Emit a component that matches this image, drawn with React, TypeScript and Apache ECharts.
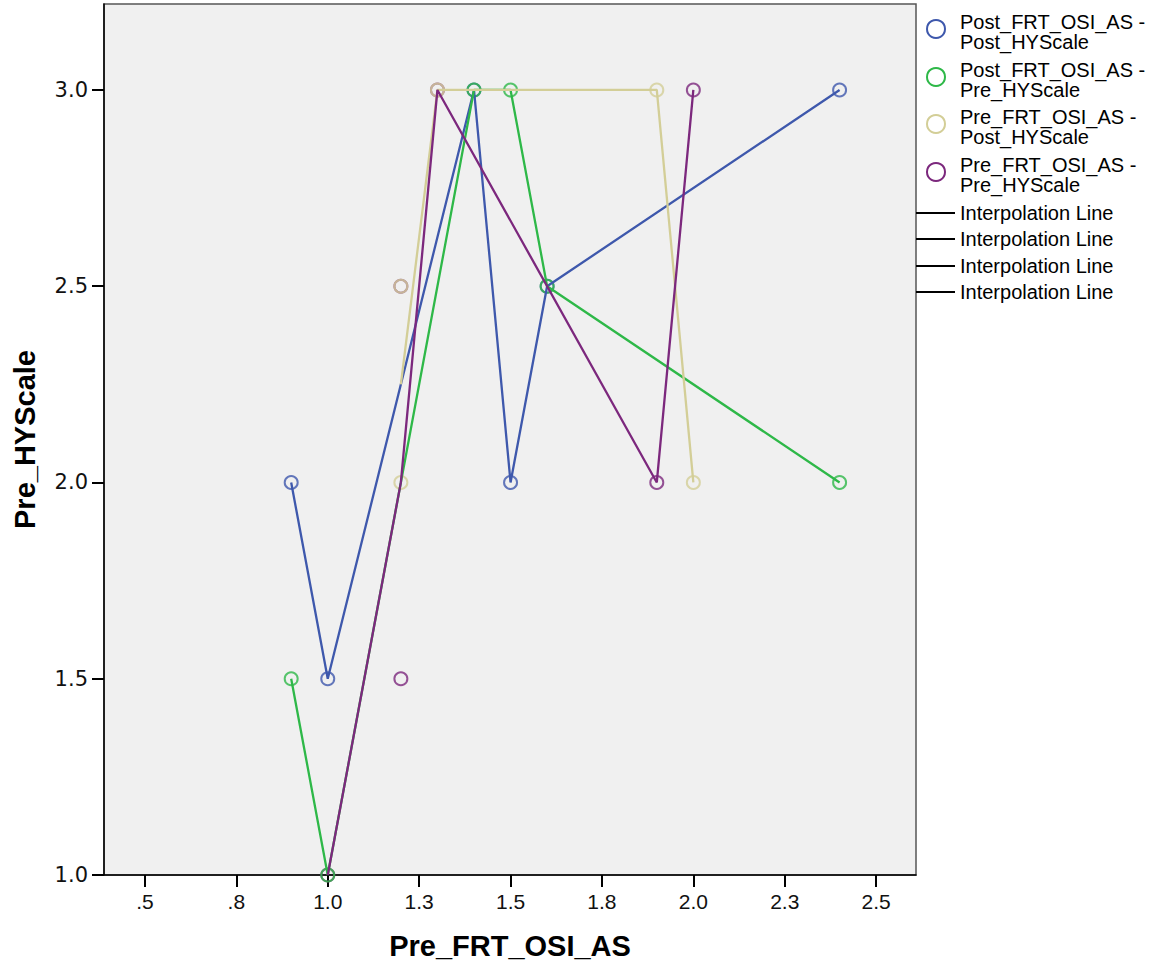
import React, { useEffect, useRef } from "react";
import * as echarts from "echarts";

// ---- data ----
const seriesNames = [
  "Post_FRT_OSI_AS - Post_HYScale",
  "Post_FRT_OSI_AS - Pre_HYScale",
  "Pre_FRT_OSI_AS - Post_HYScale",
  "Pre_FRT_OSI_AS - Pre_HYScale",
];
const legendLines = [
  ["Post_FRT_OSI_AS -", "Post_HYScale"],
  ["Post_FRT_OSI_AS -", "Pre_HYScale"],
  ["Pre_FRT_OSI_AS -", "Post_HYScale"],
  ["Pre_FRT_OSI_AS -", "Pre_HYScale"],
];
const seriesColors = ["#3E58AC", "#2EB848", "#D3CE97", "#7C287D"];

const postPostX = [0.9, 1.0, 1.4, 1.5, 1.6, 2.4];
const postPostY = [2.0, 1.5, 3.0, 2.0, 2.5, 3.0];
const postPreX = [0.9, 1.0, 1.4, 1.5, 1.6, 2.4];
const postPreY = [1.5, 1.0, 3.0, 3.0, 2.5, 2.0];
const prePostX = [1.2, 1.2, 1.3, 1.9, 2.0];
const prePostY = [2.5, 2.0, 3.0, 3.0, 2.0];
const prePreX = [1.0, 1.2, 1.2, 1.3, 1.9, 2.0];
const prePreY = [1.0, 1.5, 2.5, 3.0, 2.0, 3.0];

const xTickValues = [0.5, 0.75, 1.0, 1.25, 1.5, 1.75, 2.0, 2.25, 2.5];
const xTickLabels = [".5", ".8", "1.0", "1.3", "1.5", "1.8", "2.0", "2.3", "2.5"];
const yTickValues = [1.0, 1.5, 2.0, 2.5, 3.0];
const yTickLabels = ["1.0", "1.5", "2.0", "2.5", "3.0"];

const xTitle = "Pre_FRT_OSI_AS";
const yTitle = "Pre_HYScale";
const interpolationLabel = "Interpolation Line";

const allX = [postPostX, postPreX, prePostX, prePreX];
const allY = [postPostY, postPreY, prePostY, prePreY];

function pairs(xs: number[], ys: number[]) {
  return xs.map((x, i) => [x, ys[i]]);
}
// SPSS interpolation line: mean of y at each distinct x, sorted by x
function interpolation(xs: number[], ys: number[]) {
  const m = new Map<number, number[]>();
  xs.forEach((x, i) => {
    if (!m.has(x)) m.set(x, []);
    m.get(x)!.push(ys[i]);
  });
  return Array.from(m.keys())
    .sort((a, b) => a - b)
    .map((x) => {
      const v = m.get(x)!;
      return [x, v.reduce((s, a) => s + a, 0) / v.length];
    });
}

const FONT = "'Liberation Sans', Arial, sans-serif";

export default function App() {
  const ref = useRef<HTMLDivElement>(null);
  useEffect(() => {
    if (!ref.current) return;
    const chart = echarts.init(ref.current, null, { renderer: "svg" });

    // draw order chosen so that the green marker is on top at shared points
    const drawOrder = [3, 2, 0, 1];
    const scatterSeries = drawOrder.map((i) => ({
      name: seriesNames[i],
      type: "scatter",
      data: pairs(allX[i], allY[i]),
      symbol: "circle",
      symbolSize: 13,
      itemStyle: {
        color: "transparent",
        borderColor: seriesColors[i],
        borderWidth: 2,
        opacity: 0.8,
      },
      z: 2,
      clip: true,
    }));
    const lineSeries = seriesNames.map((name, i) => ({
      name: name + " interpolation",
      type: "line",
      data: interpolation(allX[i], allY[i]),
      showSymbol: false,
      symbol: "none",
      lineStyle: { color: seriesColors[i], width: 2.3 },
      z: 3,
      clip: true,
    }));

    const legendGraphics: any[] = [];
    const itemTop = [22, 70, 117, 165];
    legendLines.forEach((lines, i) => {
      legendGraphics.push({
        type: "circle",
        shape: { cx: 936, cy: itemTop[i] + 7, r: 9 },
        style: { fill: "transparent", stroke: seriesColors[i], lineWidth: 2 },
      });
      [0, 1].forEach((k) => {
        legendGraphics.push({
          type: "text",
          x: 960,
          y: itemTop[i] + k * 20,
          style: {
            text: lines[k],
            fontFamily: FONT,
            fontSize: 20,
            fill: "#000",
            verticalAlign: "middle",
          },
        });
      });
    });
    const interpY = [213, 239, 266, 292];
    interpY.forEach((y) => {
      legendGraphics.push({
        type: "line",
        shape: { x1: 916, y1: y, x2: 955, y2: y },
        style: { stroke: "#000", lineWidth: 2 },
      });
      legendGraphics.push({
        type: "text",
        x: 960,
        y,
        style: {
          text: interpolationLabel,
          fontFamily: FONT,
          fontSize: 20,
          fill: "#000",
          verticalAlign: "middle",
        },
      });
    });

    chart.setOption({
      animation: false,
      backgroundColor: "#ffffff",
      grid: {
        left: 104,
        top: 4,
        right: 250,
        bottom: 95,
        show: true,
        backgroundColor: "#F0F0F0",
        borderColor: "#555",
        borderWidth: 1.5,
      },
      xAxis: {
        type: "value",
        min: 0.388,
        max: 2.609,
        name: xTitle,
        nameLocation: "middle",
        nameGap: 56,
        nameTextStyle: {
          fontFamily: FONT,
          fontWeight: "bold",
          fontSize: 29,
          color: "#000",
        },
        axisLine: { show: true, onZero: false, lineStyle: { color: "#000", width: 1.5 } },
        axisTick: {
          show: true,
          length: 12,
          lineStyle: { color: "#000", width: 2 },
          customValues: xTickValues,
        },
        axisLabel: {
          customValues: xTickValues,
          margin: 16,
          fontFamily: FONT,
          fontSize: 21,
          color: "#111",
          formatter: (v: number) => {
            let best = 0;
            xTickValues.forEach((t, i) => {
              if (Math.abs(t - v) < Math.abs(xTickValues[best] - v)) best = i;
            });
            return xTickLabels[best];
          },
        },
        splitLine: { show: false },
      },
      yAxis: {
        type: "value",
        min: 1.0,
        max: 3.219,
        name: yTitle,
        nameLocation: "middle",
        nameGap: 65,
        nameTextStyle: {
          fontFamily: FONT,
          fontWeight: "bold",
          fontSize: 29,
          color: "#000",
        },
        axisLine: { show: true, onZero: false, lineStyle: { color: "#000", width: 1.5 } },
        axisTick: {
          show: true,
          length: 12,
          lineStyle: { color: "#000", width: 2 },
          customValues: yTickValues,
        },
        axisLabel: {
          customValues: yTickValues,
          margin: 16,
          fontFamily: "'DejaVu Sans', sans-serif",
          fontSize: 21,
          color: "#111",
          formatter: (v: number) => {
            let best = 0;
            yTickValues.forEach((t, i) => {
              if (Math.abs(t - v) < Math.abs(yTickValues[best] - v)) best = i;
            });
            return yTickLabels[best];
          },
        },
        splitLine: { show: false },
      },
      series: [...scatterSeries, ...lineSeries],
      graphic: legendGraphics,
    });
    return () => chart.dispose();
  }, []);
  return (
    <div
      ref={ref}
      style={{ position: "absolute", left: 0, top: 0, width: 1166, height: 970 }}
    />
  );
}
